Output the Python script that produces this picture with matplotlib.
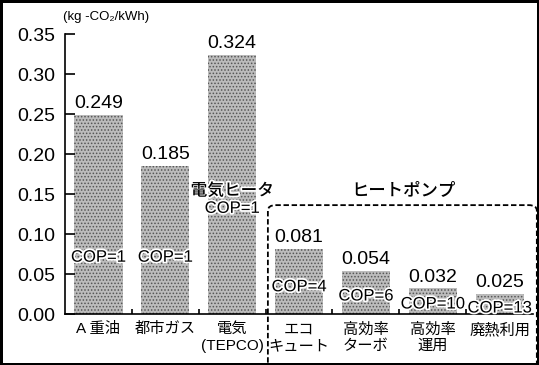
import matplotlib.pyplot as plt
import matplotlib.patheffects as pe
from matplotlib.patches import FancyBboxPatch

# CO2 emission factor per kWh of delivered heat
categories = ["A 重油", "都市ガス", "電気\n(TEPCO)", "エコ\nキュート",
              "高効率\nターボ", "高効率\n運用", "廃熱利用"]
values = [0.249, 0.185, 0.324, 0.081, 0.054, 0.032, 0.025]
cop_labels = ["COP=1", "COP=1", "電気ヒータ\nCOP=1", "COP=4", "COP=6",
              "COP=10", "COP=13"]
yticks = [0.00, 0.05, 0.10, 0.15, 0.20, 0.25, 0.30, 0.35]

# vertical placement of the COP text inside each bar
cop_y = [0.071, 0.071, 0.143, 0.034, 0.0225, 0.0125, 0.0075]

plt.rcParams["font.family"] = ["Liberation Sans", "Noto Sans CJK JP", "DejaVu Sans"]
plt.rcParams["hatch.linewidth"] = 0.7

fig = plt.figure(figsize=(5.39, 3.65), dpi=100, linewidth=2.5, edgecolor="black")
ax = fig.add_axes([0.1206, 0.1397, 0.8684, 0.7671])

x = list(range(len(values)))
ax.bar(x, values, width=0.72, color="#bcbcbc", edgecolor="#555555",
       linewidth=0, hatch=".....")

for i, v in enumerate(values):
    ax.annotate(f"{v:.3f}", (i, v), xytext=(0, 2), textcoords="offset points",
                ha="center", va="bottom", fontsize=14)

halo = [pe.withStroke(linewidth=2.5, foreground="white")]
for i, (lab, yy) in enumerate(zip(cop_labels, cop_y)):
    ax.text(i, yy, lab, ha="center", va="center", fontsize=12,
            fontweight="medium", linespacing=1.2, path_effects=halo)

ax.set_xlim(-0.5, 6.5)
ax.set_ylim(0, 0.35)
ax.set_yticks(yticks)
ax.set_yticklabels([f"{t:.2f}" for t in yticks])
ax.set_xticks(x)
ax.set_xticklabels(categories, fontsize=11, linespacing=1.25)
ax.set_xticks([i + 0.5 for i in range(6)], minor=True)
ax.tick_params(axis="y", direction="in", length=7, width=1.2, pad=7, labelsize=14)
ax.tick_params(axis="x", which="major", length=0, pad=6)
ax.tick_params(axis="x", which="minor", direction="in", length=3.5, width=1.2)

for side in ["top", "right"]:
    ax.spines[side].set_visible(False)
for side in ["left", "bottom"]:
    ax.spines[side].set_linewidth(1.2)

fig.text(0.117, 0.953, "(kg -CO₂/kWh)", fontsize=9.5, ha="left", va="center")

# dashed frame grouping the heat-pump options
box = FancyBboxPatch((0.497, -0.1), 0.499, 0.538,
                     boxstyle="round,pad=0,rounding_size=0.015",
                     transform=fig.transFigure, fill=False, linestyle=(0, (3, 1.5)),
                     linewidth=1.3, edgecolor="black", clip_on=False)
fig.patches.append(box)
fig.text(0.748, 0.48, "ヒートポンプ", fontsize=12.5, fontweight="medium",
         ha="center", va="center")

fig.savefig("out.png", dpi=100, edgecolor=fig.get_edgecolor())
